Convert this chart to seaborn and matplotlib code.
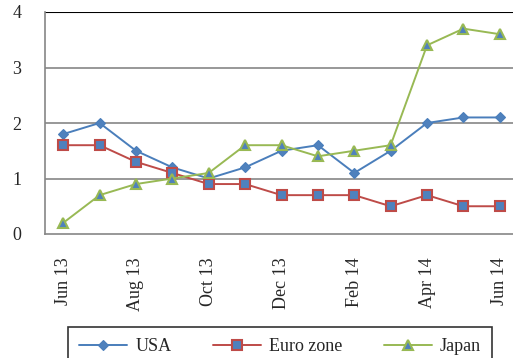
import seaborn as sns
import matplotlib.pyplot as plt
import pandas as pd
import numpy as np

months = ['Jun 13', 'Jul 13', 'Aug 13', 'Sep 13', 'Oct 13', 'Nov 13', 'Dec 13',
          'Jan 14', 'Feb 14', 'Mar 14', 'Apr 14', 'May 14', 'Jun 14']
usa = [1.8, 2.0, 1.5, 1.2, 1.0, 1.2, 1.5, 1.6, 1.1, 1.5, 2.0, 2.1, 2.1]
euro = [1.6, 1.6, 1.3, 1.1, 0.9, 0.9, 0.7, 0.7, 0.7, 0.5, 0.7, 0.5, 0.5]
japan = [0.2, 0.7, 0.9, 1.0, 1.1, 1.6, 1.6, 1.4, 1.5, 1.6, 3.4, 3.7, 3.6]
series = ['USA', 'Euro zone', 'Japan']

df = pd.DataFrame({
    'idx': list(range(len(months))) * 3,
    'value': usa + euro + japan,
    'series': [s for s in series for _ in months],
})

sns.set_style("white")
plt.rcParams['font.family'] = ['Liberation Serif', 'DejaVu Serif']

W, H = 513, 358
fig = plt.figure(figsize=(W / 100, H / 100), dpi=100)
ax = fig.add_axes([45 / W, (H - 234) / H, (518 - 45) / W, (234 - 12) / H])

colors = {'USA': '#4A7EBB', 'Euro zone': '#BE4B48', 'Japan': '#98B954'}
markers = {'USA': 'D', 'Euro zone': 's', 'Japan': '^'}
sizes = {'USA': 5, 'Euro zone': 7, 'Japan': 7}
face = '#4F81BD'

for s in series:
    sub = df[df['series'] == s]
    sns.lineplot(data=sub, x='idx', y='value', ax=ax, color=colors[s],
                 marker=markers[s], markersize=sizes[s], linewidth=1.4,
                 markerfacecolor=face, markeredgecolor=colors[s],
                 markeredgewidth=1.5 if s != 'USA' else 0.8, label=s, legend=False)

ax.set_xlim(-0.5, 12.5)
ax.set_ylim(0, 4)
ax.set_yticks([0, 1, 2, 3, 4])
ax.set_yticklabels(['0', '1', '2', '3', '4'], fontsize=13)
# tick marks sit between categories, labels on every other month
ax.set_xticks(np.arange(-0.5, 12.6, 2), minor=False)
ax.set_xticklabels([])
ax.set_xticks(range(0, 13, 2), minor=True)
ax.set_xticklabels(months[::2], minor=True, rotation=90, fontsize=13)
ax.tick_params(axis='x', which='minor', length=0, pad=17)
ax.tick_params(axis='x', which='major', length=5, color='#868686', width=1.2, direction='out')
ax.tick_params(axis='y', length=5, color='#868686', width=1.2, direction='out', pad=12)
ax.set_xlabel('')
ax.set_ylabel('')

for y in [1, 2, 3]:
    ax.axhline(y, color='#868686', linewidth=1.2, zorder=0)
ax.axhline(4, color='black', linewidth=1.5, zorder=0)

for side in ['top', 'right']:
    ax.spines[side].set_visible(False)
for side in ['left', 'bottom']:
    ax.spines[side].set_color('#868686')
    ax.spines[side].set_linewidth(1.2)

handles, labels = ax.get_legend_handles_labels()
leg = fig.legend(handles, labels, loc='upper center', bbox_to_anchor=(280 / W, 1 - 327 / H),
                 ncol=3, frameon=True, fontsize=13, handlelength=2.65, handletextpad=0.45,
                 columnspacing=2.3, fancybox=False, borderpad=0.6, borderaxespad=0)
leg.get_frame().set_edgecolor('black')
leg.get_frame().set_linewidth(1.2)

fig.savefig('out.png', dpi=100)
